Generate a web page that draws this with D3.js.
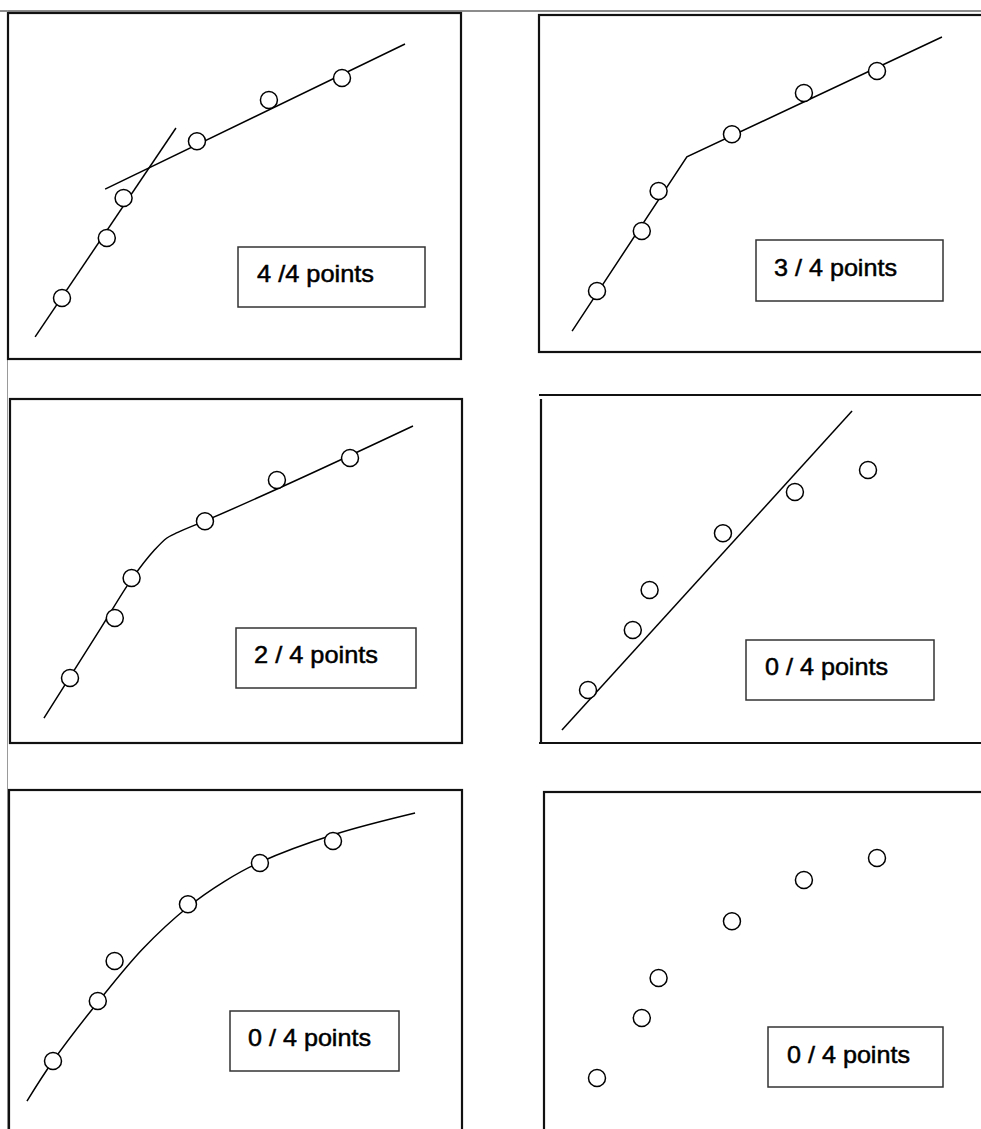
<!DOCTYPE html>
<html>
<head>
<meta charset="utf-8">
<script src="https://cdn.jsdelivr.net/npm/d3@7"></script>
<style>
  html, body { margin: 0; padding: 0; background: #fff; overflow: hidden; }
  svg { display: block; }
  text { font-family: "Liberation Sans", Arial, sans-serif; }
</style>
</head>
<body>
<svg id="chart" width="981" height="1129"></svg>
<script>
// ---------------- DATA ----------------
const labels = ["4 /4 points", "3 / 4 points", "2 / 4 points", "0 / 4 points", "0 / 4 points", "0 / 4 points"];
// the same six observations appear in every panel
const pointX = [0, 1.6, 2.2, 4.82, 7.39, 10];
const pointY = [0, 2.14, 3.57, 5.6, 7.07, 7.86];
// panel 1: two straight segments that cross
const fit1Steep   = [[-0.96, -1.39], [4.07, 6.07]];
const fit1Shallow = [[1.54, 3.89], [12.25, 9.07]];
// panel 2: joined broken line
const fit2 = [[-0.89, -1.43], [3.21, 4.79], [12.32, 9.07]];
// panel 3: broken line with a rounded knee
const fit3 = [[-0.93, -1.43], [1.1, 1.78], [2.21, 3.54], [3.0, 4.55], [3.46, 5.0], [3.85, 5.2], [4.82, 5.61], [12.25, 9.0]];
// panel 4: single straight line
const fit4 = [[-0.93, -1.43], [9.43, 9.96]];
// panel 5: smooth concave curve
const fit5 = [[-0.93, -1.43], [0, 0], [1.61, 2.11], [3.2, 4.0], [4.82, 5.5], [6.1, 6.4], [7.39, 7.1], [10.07, 8.1], [12.93, 8.86]];

// ---------------- LAYOUT ----------------
const svg = d3.select("#chart");
const unitPx = 28;
const origins = [[62, 298], [597, 291], [70, 678], [588, 690], [53, 1061], [597, 1078]];
const boxes = [
  [238, 247, 187, 60, 117],
  [756, 240, 187, 61, 123],
  [236, 628, 180, 60, 124],
  [746, 640, 188, 60, 123],
  [230, 1011, 169, 60, 123],
  [768, 1027, 175, 60, 123]
];
const textOffsets = [[19, 35], [18, 36], [18, 35], [19, 35], [18, 35], [19, 36]];

// page guide lines (gray)
svg.append("line").attr("x1", 0).attr("x2", 981).attr("y1", 11).attr("y2", 11)
  .attr("stroke", "#8c8c8c").attr("stroke-width", 2);
svg.append("line").attr("x1", 7.5).attr("x2", 7.5).attr("y1", 10).attr("y2", 1129)
  .attr("stroke", "#9a9a9a").attr("stroke-width", 1);

// panel frames
const frameStroke = "#111";
const fw = 2.2;
svg.append("rect").attr("x", 8).attr("y", 13).attr("width", 453).attr("height", 346)
  .attr("fill", "none").attr("stroke", frameStroke).attr("stroke-width", fw);
svg.append("rect").attr("x", 539).attr("y", 15).attr("width", 520).attr("height", 337)
  .attr("fill", "none").attr("stroke", frameStroke).attr("stroke-width", fw);
svg.append("rect").attr("x", 10).attr("y", 399).attr("width", 452).attr("height", 344)
  .attr("fill", "none").attr("stroke", frameStroke).attr("stroke-width", fw);
svg.append("line").attr("x1", 539).attr("x2", 1000).attr("y1", 395).attr("y2", 395)
  .attr("stroke", frameStroke).attr("stroke-width", fw);
svg.append("line").attr("x1", 541).attr("x2", 541).attr("y1", 399).attr("y2", 743)
  .attr("stroke", frameStroke).attr("stroke-width", fw);
svg.append("line").attr("x1", 539).attr("x2", 1000).attr("y1", 743).attr("y2", 743)
  .attr("stroke", frameStroke).attr("stroke-width", fw);
svg.append("rect").attr("x", 9).attr("y", 790).attr("width", 453).attr("height", 420)
  .attr("fill", "none").attr("stroke", frameStroke).attr("stroke-width", fw);
svg.append("rect").attr("x", 544).attr("y", 792).attr("width", 520).attr("height", 420)
  .attr("fill", "none").attr("stroke", frameStroke).attr("stroke-width", fw);

const fits = [
  [{ pts: fit1Steep, curve: d3.curveLinear }, { pts: fit1Shallow, curve: d3.curveLinear }],
  [{ pts: fit2, curve: d3.curveLinear }],
  [{ pts: fit3, curve: d3.curveMonotoneX }],
  [{ pts: fit4, curve: d3.curveLinear }],
  [{ pts: fit5, curve: d3.curveCatmullRom.alpha(0.5) }],
  []
];

const points = pointX.map((v, i) => [v, pointY[i]]);

origins.forEach((o, i) => {
  const x = d3.scaleLinear().domain([0, 10]).range([o[0], o[0] + 10 * unitPx]);
  const y = d3.scaleLinear().domain([0, 8]).range([o[1], o[1] - 8 * unitPx]);
  const g = svg.append("g");

  fits[i].forEach(f => {
    const line = d3.line().x(d => x(d[0])).y(d => y(d[1])).curve(f.curve);
    g.append("path").attr("d", line(f.pts))
      .attr("fill", "none").attr("stroke", "#000").attr("stroke-width", 1.5);
  });

  g.selectAll("circle").data(points).join("circle")
    .attr("cx", d => x(d[0])).attr("cy", d => y(d[1])).attr("r", 8.5)
    .attr("fill", "#fff").attr("stroke", "#000").attr("stroke-width", 1.5);

  const b = boxes[i];
  g.append("rect").attr("x", b[0]).attr("y", b[1]).attr("width", b[2]).attr("height", b[3])
    .attr("fill", "#fff").attr("stroke", "#333").attr("stroke-width", 1.5);
  g.append("text").attr("x", b[0] + textOffsets[i][0]).attr("y", b[1] + textOffsets[i][1])
    .attr("font-size", 24).attr("fill", "#000")
    .attr("stroke", "#000").attr("stroke-width", 0.5)
    .attr("textLength", b[4]).attr("lengthAdjust", "spacingAndGlyphs")
    .text(labels[i]);
});
</script>
</body>
</html>
